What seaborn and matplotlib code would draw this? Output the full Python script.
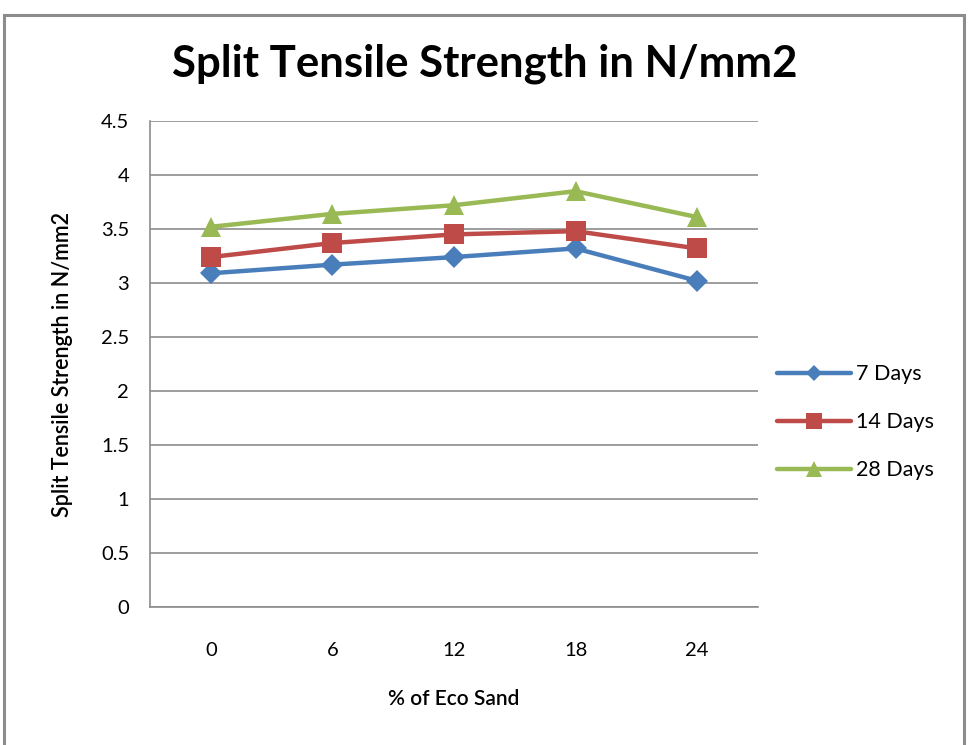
import matplotlib
matplotlib.use("Agg")
import matplotlib.pyplot as plt
import seaborn as sns
import pandas as pd
from matplotlib.patches import Rectangle

# Split tensile strength (N/mm2) by eco sand replacement level
eco_sand = ["0", "6", "12", "18", "24"]
days_7 = [3.09, 3.17, 3.24, 3.32, 3.02]
days_14 = [3.24, 3.37, 3.45, 3.48, 3.32]
days_28 = [3.52, 3.64, 3.72, 3.85, 3.61]
series_names = ["7 Days", "14 Days", "28 Days"]
y_ticks = [0, 0.5, 1, 1.5, 2, 2.5, 3, 3.5, 4, 4.5]
y_tick_labels = ["0", "0.5", "1", "1.5", "2", "2.5", "3", "3.5", "4", "4.5"]

rows = []
for name, vals in zip(series_names, [days_7, days_14, days_28]):
    for i, (cat, v) in enumerate(zip(eco_sand, vals)):
        rows.append({"pos": i, "sand": cat, "series": name, "value": v})
df = pd.DataFrame(rows)

sns.set_theme(style="white")
plt.rcParams["font.family"] = ["Lato", "DejaVu Sans"]
plt.rcParams["text.color"] = "#000000"
plt.rcParams["axes.labelcolor"] = "#000000"

palette = {"7 Days": "#4A7EBB", "14 Days": "#BE4B48", "28 Days": "#98B954"}
markers = {"7 Days": "D", "14 Days": "s", "28 Days": "^"}
sizes = {"7 Days": 11, "14 Days": 15, "28 Days": 15}

fig = plt.figure(figsize=(9.69, 7.45), dpi=100)
ax = fig.add_axes([0.1548, 0.1852, 0.6274, 0.6524])

for name in series_names:
    sub = df[df["series"] == name]
    sns.lineplot(data=sub, x="pos", y="value", ax=ax, color=palette[name],
                 marker=markers[name], markersize=sizes[name],
                 markeredgewidth=0, linewidth=3.2, label=name)

ax.set_xlim(-0.5, 4.5)
ax.set_ylim(0, 4.5)
ax.set_xticks(range(len(eco_sand)))
ax.set_xticklabels(eco_sand)
ax.set_yticks(y_ticks)
ax.set_yticklabels(y_tick_labels)
ax.tick_params(axis="both", length=0, labelsize=14.5, colors="#000000")
ax.tick_params(axis="x", pad=25)
ax.tick_params(axis="y", pad=15)
ax.grid(axis="y", color="#8C8C8C", linewidth=1.2)
ax.set_axisbelow(True)
for side in ["top", "right"]:
    ax.spines[side].set_visible(False)
for side in ["left", "bottom"]:
    ax.spines[side].set_color("#8C8C8C")
    ax.spines[side].set_linewidth(1.2)

ax.set_xlabel("% of Eco Sand", fontsize=15, fontweight="semibold", labelpad=22)
ax.set_ylabel("Split Tensile Strength in N/mm2", fontsize=15.5,
              fontweight="semibold", labelpad=20)

fig.text(0.5, 0.915, "Split Tensile Strength in N/mm2", ha="center", va="center",
         fontsize=31.5, fontweight="bold", color="#000000")

leg = ax.legend(loc="center left", bbox_to_anchor=(1.0, 0.38), frameon=False,
                fontsize=15.5, handlelength=3.4, labelspacing=1.3, handletextpad=0.25,
                markerscale=0.75)

fig.patches.append(Rectangle((0.004, -0.02), 0.991, 1.0, transform=fig.transFigure,
                             fill=False, edgecolor="#8C8C8C", linewidth=2.2))

fig.savefig("out.png", dpi=100)
